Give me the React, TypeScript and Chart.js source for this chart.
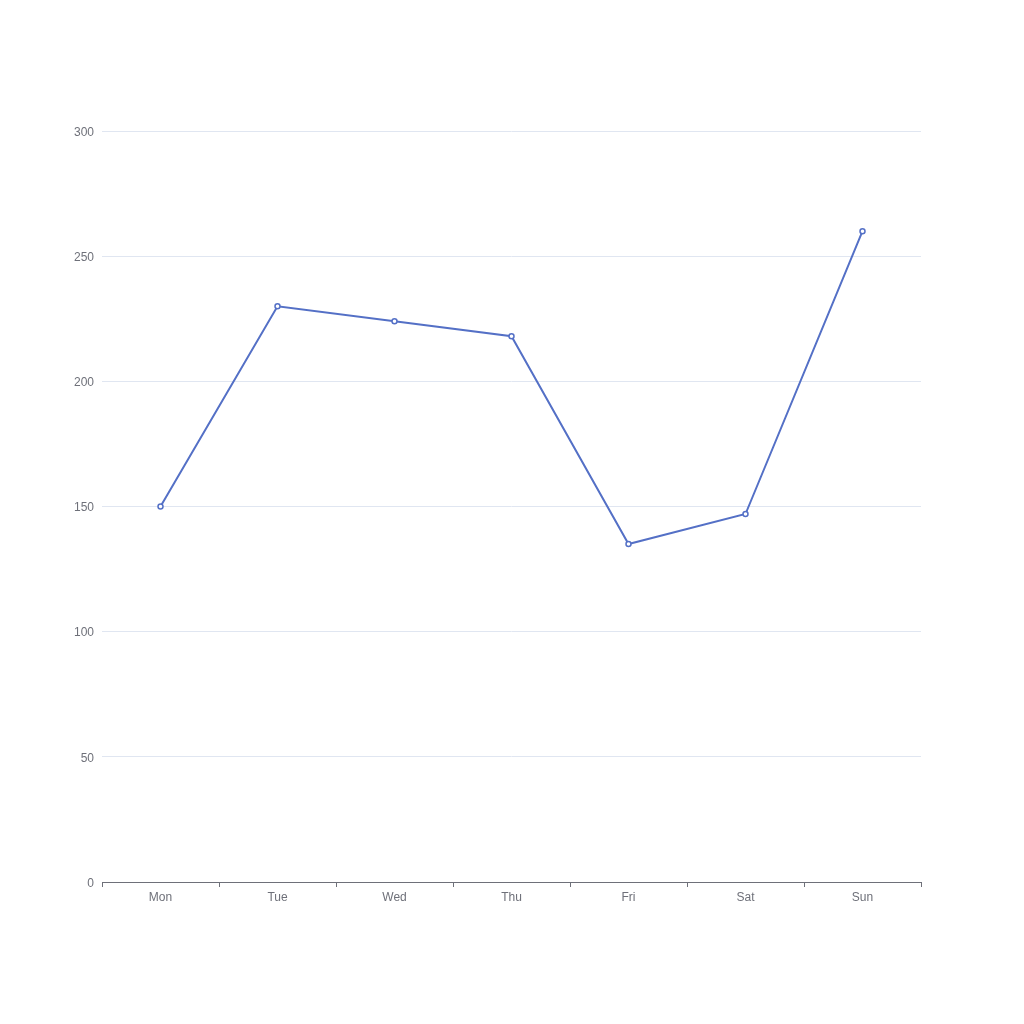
import React, { useEffect, useRef } from "react";
import { Chart, registerables } from "chart.js";

Chart.register(...registerables);

const categories = ["Mon", "Tue", "Wed", "Thu", "Fri", "Sat", "Sun"];
const values = [150, 230, 224, 218, 135, 147, 260];
const yMin = 0;
const yMax = 300;
const yStep = 50;

const FONT = "'Liberation Sans', Arial, sans-serif";

export default function App() {
  const ref = useRef<HTMLCanvasElement | null>(null);

  useEffect(() => {
    if (!ref.current) return;
    const chart = new Chart(ref.current, {
      type: "line",
      data: {
        labels: categories,
        datasets: [
          {
            data: values,
            borderColor: "#5470c6",
            borderWidth: 2,
            pointRadius: 2.5,
            pointBorderWidth: 1.5,
            pointBackgroundColor: "#ffffff",
            pointBorderColor: "#5470c6",
            tension: 0,
            fill: false,
          },
        ],
      },
      options: {
        responsive: false,
        animation: false,
        layout: { padding: { left: 0, right: 103, top: 131, bottom: 112 } },
        plugins: { legend: { display: false }, tooltip: { enabled: false } },
        font: { family: FONT, size: 12 },
        scales: {
          x: {
            type: "category",
            offset: true,
            grid: {
              offset: true,
              drawOnChartArea: false,
              drawTicks: true,
              tickLength: 5,
              color: "#6E7079",
            },
            border: { display: true, color: "#6E7079", width: 1 },
            ticks: {
              color: "#6E7079",
              padding: 3,
              font: { family: FONT, size: 12 },
              maxRotation: 0,
            },
            afterFit: (s: any) => {
              s.height = 30;
            },
          },
          y: {
            min: yMin,
            max: yMax,
            ticks: {
              stepSize: yStep,
              color: "#6E7079",
              padding: 8,
              labelOffset: 1.5,
              font: { family: FONT, size: 12 },
            },
            grid: { color: "#E0E6F1", drawTicks: false },
            border: { display: false },
            afterFit: (s: any) => {
              s.width = 102;
            },
          },
        },
      },
    });
    return () => chart.destroy();
  }, []);

  return (
    <div style={{ position: "absolute", left: 0, top: 0, width: 1024, height: 1024, background: "#fff" }}>
      <canvas ref={ref} width={1024} height={1024} style={{ width: 1024, height: 1024 }} />
    </div>
  );
}
